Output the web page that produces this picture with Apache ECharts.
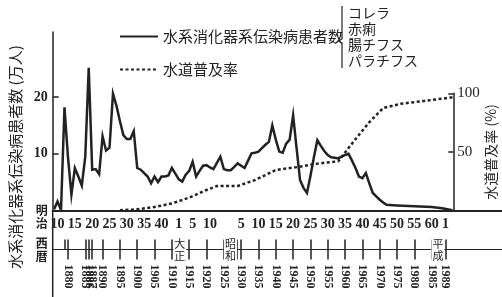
<!DOCTYPE html>
<html>
<head>
<meta charset="utf-8">
<script src="https://cdn.jsdelivr.net/npm/echarts@6/dist/echarts.min.js"></script>
<style>
html, body { margin: 0; padding: 0; background: #fff; }
#chart { width: 502px; height: 297px; }
</style>
</head>
<body>
<div id="chart"></div>
<script>
// 水系消化器系伝染病患者数(万人)
const caseYears = [
  1876, 1877, 1878, 1879,
  1880, 1881, 1882, 1883, 1884, 1885, 1886, 1887, 1888, 1889,
  1890, 1891, 1892, 1893, 1894, 1895, 1896, 1897, 1898, 1899,
  1900, 1901, 1902, 1903, 1904, 1905, 1906, 1907, 1908, 1909,
  1910, 1911, 1912, 1913, 1914, 1915, 1916, 1917, 1918, 1919,
  1920, 1921, 1922, 1923, 1924, 1925, 1926, 1927, 1928, 1929,
  1930, 1931, 1932, 1933, 1934, 1935, 1936, 1937, 1938, 1939,
  1940, 1941, 1942, 1943, 1944, 1945, 1946, 1947, 1948, 1949,
  1950, 1951, 1952, 1953, 1954, 1955, 1956, 1957, 1958, 1959,
  1960, 1961, 1962, 1963, 1964, 1965, 1966, 1967, 1968, 1969,
  1970, 1971, 1972, 1975, 1980, 1985, 1988, 1991
]
const caseValues = [
  0.2, 1.6, 0.1, 18.2,
  9.5, 2.8, 7.5, 6.0, 4.4, 9.5, 25.2, 7.2, 7.3, 6.4,
  13.1, 10.6, 11.1, 20.6, 18.5, 15.8, 13.3, 12.6, 12.6, 14.0,
  7.5, 7.2, 6.6, 6.0, 4.8, 6.0, 5.0, 6.0, 6.0, 6.2,
  7.5, 6.5, 5.5, 5.1, 6.3, 7.0, 8.6, 6.0, 7.0, 7.9,
  8.0, 7.6, 7.3, 8.4, 9.5, 7.3, 7.1, 7.1, 7.7, 8.3,
  7.9, 7.5, 8.8, 10.1, 10.2, 10.4, 11.0, 11.6, 12.1, 15.0,
  12.5, 10.4, 10.2, 11.8, 12.5, 16.8, 11.0, 5.4, 4.0, 3.1,
  6.1, 9.4, 12.4, 11.4, 10.5, 9.8, 9.4, 9.3, 9.2, 9.5,
  9.8, 10.0, 8.8, 7.5, 6.0, 5.7, 6.6, 4.8, 3.1, 2.5,
  1.9, 1.4, 1.0, 0.9, 0.75, 0.6, 0.4, 0.05
]

// 水道普及率(%)
const waterYears = [1895, 1900, 1905, 1910, 1915, 1920, 1923, 1929, 1934, 1940,
  1946, 1952, 1958, 1963, 1967, 1971, 1976, 1985, 1991]
const waterValues = [0.3, 1.0, 3.0, 6.0, 11.0, 17.5, 20.9, 20.9, 26.0, 34.6,
  37.0, 40.0, 42.0, 61.0, 75.5, 87.5, 91.0, 94.3, 96.6]

// 元号の年(明治・大正・昭和・平成)
const eraYears = [1877, 1882, 1887, 1892, 1897, 1902, 1907, 1912, 1916, 1921,
  1930, 1935, 1940, 1945, 1950, 1955, 1960, 1965, 1970, 1975, 1980, 1985, 1989]
const eraLabels = ['10', '15', '20', '25', '30', '35', '40', '1', '5', '10',
  '5', '10', '15', '20', '25', '30', '35', '40', '45', '50', '55', '60', '1']

// 西暦の目盛り
const westYears = [1879, 1880, 1885, 1886, 1887, 1890, 1895, 1900, 1905, 1910,
  1915, 1920, 1925, 1930, 1935, 1940, 1945, 1950, 1955, 1960,
  1965, 1970, 1975, 1980, 1985, 1989]
const bracketYears = [1928.7]
const eraNameYears = [1912.3, 1926.9, 1986.8]
const eraNames = ['大正', '昭和', '平成']

const diseases = ['コレラ', '赤痢', '腸チフス', 'パラチフス']

const leftTicks = [10, 20]
const rightTicks = [50, 100]

const X_MIN = 1875.6
const X_MAX_FULL = 2005.3
const X_MAX_PLOT = 1991.2

const ink = '#222'
const serif = '"Liberation Serif", "DejaVu Serif", serif'
const jp = '"Noto Sans CJK JP", sans-serif'

const chart = echarts.init(document.getElementById('chart'), null, { renderer: 'canvas' })

const hiddenSplit = { show: false }

const option = {
  animation: false,
  backgroundColor: '#fff',
  grid: [
    { left: 52.7, right: 0, top: 32, bottom: 86.5, outerBoundsMode: 'none' },
    { left: 52.7, right: 48.7, top: 93.3, bottom: 86.5, outerBoundsMode: 'none' }
  ],
  legend: {
    orient: 'vertical',
    left: 114,
    top: 24,
    itemWidth: 38,
    itemHeight: 14,
    itemGap: 18,
    itemStyle: { opacity: 0 },
    textStyle: { fontFamily: jp, fontSize: 15, color: ink },
    data: ['水系消化器系伝染病患者数', '水道普及率']
  },
  xAxis: [
    {
      // 基線と元号の年
      type: 'value', gridIndex: 0, min: X_MIN, max: X_MAX_FULL,
      axisLine: { lineStyle: { color: ink, width: 2 } },
      axisTick: { show: false },
      splitLine: hiddenSplit,
      axisLabel: {
        customValues: eraYears,
        formatter: v => eraLabels[eraYears.indexOf(v)],
        margin: 7, fontFamily: serif, fontSize: 14, fontWeight: 'bold', color: ink
      },
      // 先頭の空行で「明治」を基線より少し下げる
      name: ' \n明\n治', nameLocation: 'start', nameGap: 5, nameMoveOverlap: false,
      nameTextStyle: { fontFamily: jp, fontSize: 12, fontWeight: 'bold', lineHeight: 13, color: ink }
    },
    {
      // 西暦(下向き目盛り)
      type: 'value', gridIndex: 0, min: X_MIN, max: X_MAX_FULL, position: 'bottom', offset: 39,
      axisLine: { lineStyle: { color: ink, width: 1.2 } },
      axisTick: { customValues: westYears.concat(bracketYears), length: 10, lineStyle: { color: ink, width: 1.5 } },
      splitLine: hiddenSplit,
      axisLabel: {
        customValues: westYears, rotate: -90, margin: 15,
        formatter: v => String(v),
        fontFamily: serif, fontSize: 12, fontWeight: 'bold', color: ink
      },
      name: '西\n暦', nameLocation: 'start', nameGap: 5, nameMoveOverlap: false,
      nameTextStyle: { fontFamily: jp, fontSize: 12, fontWeight: 'bold', lineHeight: 13, color: ink, padding: [2, 0, 0, 0] }
    },
    {
      // 西暦(上向き目盛り)
      type: 'value', gridIndex: 0, min: X_MIN, max: X_MAX_FULL, position: 'bottom', offset: 39,
      axisLine: { show: false },
      axisTick: { inside: true, customValues: westYears.concat(bracketYears), length: 10, lineStyle: { color: ink, width: 1.5 } },
      splitLine: hiddenSplit,
      axisLabel: { show: false }
    },
    {
      // 元号名
      type: 'value', gridIndex: 0, min: X_MIN, max: X_MAX_FULL, position: 'bottom', offset: 39,
      axisLine: { show: false },
      axisTick: { show: false },
      splitLine: hiddenSplit,
      axisLabel: {
        customValues: eraNameYears,
        formatter: v => eraNames[eraNameYears.indexOf(v)].split('').join('\n'),
        margin: -12, fontFamily: jp, fontSize: 11, lineHeight: 12, color: ink,
        backgroundColor: '#fff', padding: [0, 1]
      }
    },
    { type: 'value', gridIndex: 1, min: X_MIN, max: X_MAX_PLOT, show: false, splitLine: hiddenSplit }
  ],
  yAxis: [
    {
      type: 'value', gridIndex: 0, min: 0, max: 31.5, position: 'left',
      axisLine: { show: true, lineStyle: { color: ink, width: 1.5 } },
      axisTick: { show: true, inside: true, length: 6, customValues: leftTicks, lineStyle: { color: ink, width: 1.5 } },
      axisLabel: { customValues: leftTicks, margin: 5, fontFamily: serif, fontSize: 14, fontWeight: 'bold', color: ink },
      splitLine: hiddenSplit
    },
    {
      type: 'value', gridIndex: 1, min: 0, max: 100, position: 'right',
      axisLine: { show: true, lineStyle: { color: ink, width: 1.5 } },
      axisTick: { show: true, inside: true, length: 5, customValues: rightTicks, lineStyle: { color: ink, width: 1.5 } },
      axisLabel: { customValues: rightTicks, margin: 4, fontFamily: serif, fontSize: 15, color: ink },
      splitLine: hiddenSplit,
      name: '水道普及率 (%)', nameLocation: 'middle', nameRotate: 90, nameGap: 30, nameMoveOverlap: false,
      nameTextStyle: { fontFamily: jp, fontSize: 14, color: ink }
    }
  ],
  series: [
    {
      name: '水系消化器系伝染病患者数',
      type: 'line',
      xAxisIndex: 0, yAxisIndex: 0,
      data: caseYears.map((y, i) => [y, caseValues[i]]),
      symbol: 'none',
      itemStyle: { color: ink },
      lineStyle: { color: ink, width: 2.5, join: 'miter' }
    },
    {
      name: '水道普及率',
      type: 'line',
      xAxisIndex: 4, yAxisIndex: 1,
      data: waterYears.map((y, i) => [y, waterValues[i]]),
      symbol: 'none',
      itemStyle: { color: ink },
      lineStyle: { color: ink, width: 2.5, type: [3, 2.5] }
    }
  ],
  graphic: [
    {
      // 左軸の下への延長
      type: 'line', silent: true,
      shape: { x1: 52.7, y1: 210, x2: 52.7, y2: 297 },
      style: { stroke: ink, lineWidth: 1.5 }
    },
    {
      type: 'text', silent: true,
      x: 15, y: 157, rotation: Math.PI / 2,
      style: {
        text: '水系消化器系伝染病患者数 (万人)',
        fontFamily: jp, fontSize: 15, fill: ink,
        align: 'center', verticalAlign: 'middle'
      }
    },
    {
      // 凡例の括弧
      type: 'polyline', silent: true,
      shape: { points: [[342, 6], [342, 39], [338.5, 41], [342, 43], [342, 68]] },
      style: { stroke: ink, lineWidth: 1.2, fill: null }
    },
    {
      type: 'text', silent: true,
      x: 348, y: 5,
      style: {
        text: diseases.join('\n'),
        fontFamily: jp, fontSize: 14, lineHeight: 15.8, fill: ink,
        verticalAlign: 'top'
      }
    }
  ]
}

chart.setOption(option)
</script>
</body>
</html>
